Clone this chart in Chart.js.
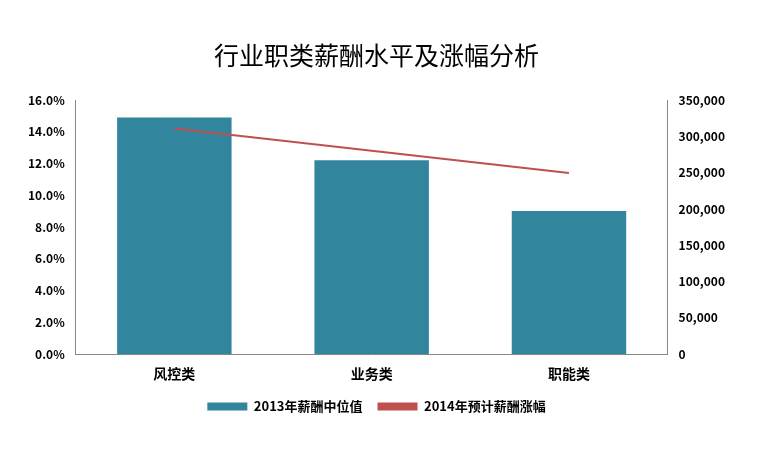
<!DOCTYPE html><html><head><meta charset="utf-8">
<script src="https://cdn.jsdelivr.net/npm/chart.js@4"></script>
<style>body{margin:0;background:#fff}#w{width:758px;height:462px}</style></head><body><div id="w"><canvas id="c"></canvas></div>
<script>
const categories=["风控类","业务类","职能类"];
const salary2013=[326000,267000,197000];
const raise2014=[14.2,12.8,11.4];
const leftTicks=[0,2,4,6,8,10,12,14,16];
Chart.defaults.font.family="'Noto Sans CJK SC','Liberation Serif',serif";
Chart.defaults.color="#000";
new Chart(document.getElementById('c'),{
data:{labels:categories,datasets:[
{type:'line',label:'2014年预计薪酬涨幅',data:raise2014,yAxisID:'y',borderColor:'#c0504d',backgroundColor:'#c0504d',borderWidth:2,pointRadius:0,order:0},
{type:'bar',label:'2013年薪酬中位值',data:salary2013,yAxisID:'y1',backgroundColor:'#31859c',barPercentage:0.58,categoryPercentage:1,order:1}
]},
options:{responsive:true,maintainAspectRatio:false,animation:false,
layout:{padding:{left:25,right:30,top:30,bottom:39}},
plugins:{title:{display:true,text:'行业职类薪酬水平及涨幅分析',font:{size:25,weight:'normal'},padding:{top:10,bottom:30}},
legend:{position:'bottom',labels:{boxWidth:40,boxHeight:8,font:{size:13,weight:'bold'},padding:15,
generateLabels:c=>{const l=Chart.defaults.plugins.legend.labels.generateLabels(c);return l.reverse().map(x=>{if(x.text.startsWith('2014')){x.lineWidth=0;x.fillStyle='#c0504d';}return x;});}}}},
scales:{
x:{grid:{display:false},border:{color:'#888'},ticks:{font:{size:14,weight:'bold'}}},
y:{position:'left',min:0,max:16,afterBuildTicks:a=>{a.ticks=leftTicks.map(v=>({value:v}))},grid:{display:false},border:{color:'#888'},ticks:{font:{size:12,weight:'bold'},callback:v=>v.toFixed(1)+'%'}},
y1:{position:'right',min:0,max:350000,grid:{display:false},border:{color:'#888'},ticks:{stepSize:50000,font:{size:12,weight:'bold'},callback:v=>v.toLocaleString('en-US')}}
}}});
</script></body></html>
